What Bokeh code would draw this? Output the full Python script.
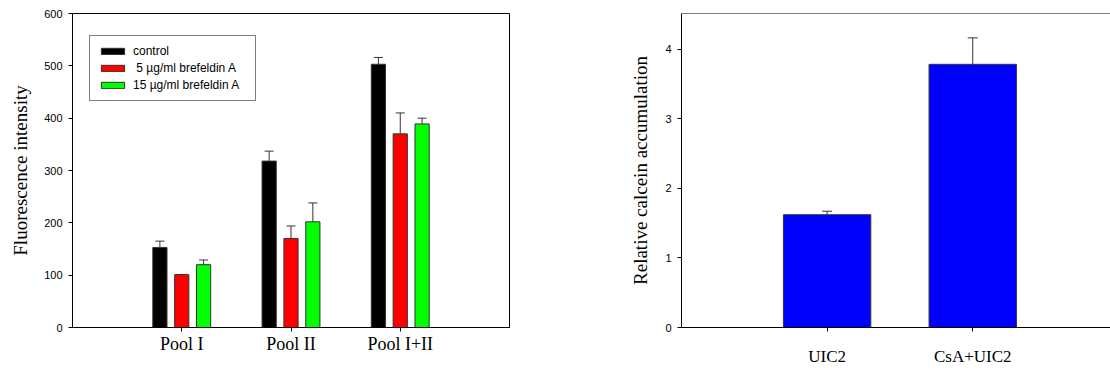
from bokeh.plotting import figure
from bokeh.models import (Range1d, FixedTicker, Whisker, ColumnDataSource, Legend, LegendItem,
                          Span, TeeHead)
from bokeh.layouts import row
from bokeh.embed import file_html
from bokeh.resources import INLINE

# ---------------- data ----------------
pools = ["Pool I", "Pool II", "Pool I+II"]
series_names = ["control", " 5 \u00b5g/ml brefeldin A", "15 \u00b5g/ml brefeldin A"]
control = [153, 318, 503]
control_err = [12, 19, 13]
bref5 = [101, 170, 370]
bref5_err = [0, 24, 40]
bref15 = [120, 202, 389]
bref15_err = [9, 36, 11]
left_yticks = [0, 100, 200, 300, 400, 500, 600]

groups = ["UIC2", "CsA+UIC2"]
rel_calcein = [1.62, 3.78]
rel_calcein_err = [0.05, 0.38]
right_yticks = [0, 1, 2, 3, 4]

SERIF = "Liberation Serif"
SANS = "Liberation Sans"
colors = ["#000000", "#FF0000", "#00FF00"]


def style_axes(p):
    for ax in (p.xaxis[0], p.yaxis[0]):
        ax.axis_line_color = "black"
        ax.major_tick_line_color = "black"
        ax.minor_tick_line_color = None
        ax.major_tick_in = 0
        ax.major_tick_out = 4
    p.yaxis.major_label_text_font = SANS
    p.yaxis.major_label_text_font_size = "11px"
    p.yaxis.major_label_text_color = "black"
    p.yaxis.axis_label_text_font = SERIF
    p.yaxis.axis_label_text_font_style = "normal"
    p.yaxis.axis_label_text_font_size = "19px"
    p.yaxis.axis_label_text_color = "black"
    p.xaxis.major_label_text_font = SERIF
    p.xaxis.major_label_text_color = "black"
    p.xgrid.visible = False
    p.ygrid.visible = False


H = 368
TOP = 13
BOTTOM = 41

# ---------------- left chart ----------------
p1 = figure(width=560, height=H, output_backend="svg", toolbar_location=None,
            x_range=Range1d(0, 4), y_range=Range1d(0, 600),
            min_border_left=72, min_border_right=51, min_border_top=TOP, min_border_bottom=BOTTOM)
p1.outline_line_color = "black"
p1.outline_line_width = 1
style_axes(p1)
p1.yaxis.axis_label = "Fluorescence intensity"
p1.yaxis.ticker = FixedTicker(ticks=left_yticks)
p1.yaxis.major_label_standoff = 6
p1.yaxis.axis_label_standoff = 10
xpos = [i + 1 for i in range(len(pools))]
p1.xaxis.ticker = FixedTicker(ticks=xpos)
p1.xaxis.major_label_overrides = {x: name for x, name in zip(xpos, pools)}
p1.xaxis.major_label_text_font_size = "18px"
p1.xaxis.major_label_standoff = 2

offsets = [-0.2, 0.0, 0.2]
vals = [control, bref5, bref15]
errs = [control_err, bref5_err, bref15_err]
items = []
for k in range(3):
    xs = [x + offsets[k] for x in xpos]
    src = ColumnDataSource(dict(x=xs, top=vals[k], upper=[v + e for v, e in zip(vals[k], errs[k])]))
    w = Whisker(source=src, base="x", lower="top", upper="upper", line_color="#333333",
                line_width=1, upper_head=TeeHead(size=9, line_color="#333333", line_width=1),
                lower_head=None, level="underlay")
    p1.add_layout(w)
    r = p1.vbar(x="x", top="top", width=0.13, bottom=0, source=src,
                fill_color=colors[k], line_color="#333333", line_width=1)
    items.append(LegendItem(label=series_names[k], renderers=[r]))

legend = Legend(items=items, location=(17, 226), orientation="vertical",
                border_line_color="black", border_line_width=1,
                background_fill_color="white", background_fill_alpha=1,
                label_text_font=SANS, label_text_font_size="12px", label_text_color="black",
                glyph_width=29, glyph_height=8, label_height=12, label_width=114,
                label_standoff=6, spacing=3, padding=8, margin=0)
p1.add_layout(legend, "center")

# ---------------- right chart ----------------
p2 = figure(width=550, height=H, output_backend="svg", toolbar_location=None,
            x_range=Range1d(0, 2.946), y_range=Range1d(0, 4.51),
            min_border_left=121, min_border_right=0, min_border_top=TOP, min_border_bottom=BOTTOM)
p2.outline_line_color = None
style_axes(p2)
p2.add_layout(Span(location=p2.y_range.end, dimension="width", line_color="black", line_width=1))
p2.yaxis.axis_label = "Relative calcein accumulation"
p2.yaxis.ticker = FixedTicker(ticks=right_yticks)
p2.yaxis.major_label_standoff = 6
p2.yaxis.axis_label_standoff = 11
xpos2 = [i + 1 for i in range(len(groups))]
p2.xaxis.ticker = FixedTicker(ticks=xpos2)
p2.xaxis.major_label_overrides = {x: name for x, name in zip(xpos2, groups)}
p2.xaxis.major_label_text_font_size = "17px"
p2.xaxis.major_label_standoff = 15

src2 = ColumnDataSource(dict(x=xpos2, top=rel_calcein,
                             upper=[v + e for v, e in zip(rel_calcein, rel_calcein_err)]))
p2.add_layout(Whisker(source=src2, base="x", lower="top", upper="upper", line_color="#333333",
                      line_width=1, upper_head=TeeHead(size=10, line_color="#333333", line_width=1),
                      lower_head=None, level="underlay"))
p2.vbar(x="x", top="top", width=0.6, bottom=0, source=src2,
        fill_color="#0000FF", line_color="#333333", line_width=1)

layout = row(p1, p2)
open("out.html", "w").write(file_html(layout, INLINE))
